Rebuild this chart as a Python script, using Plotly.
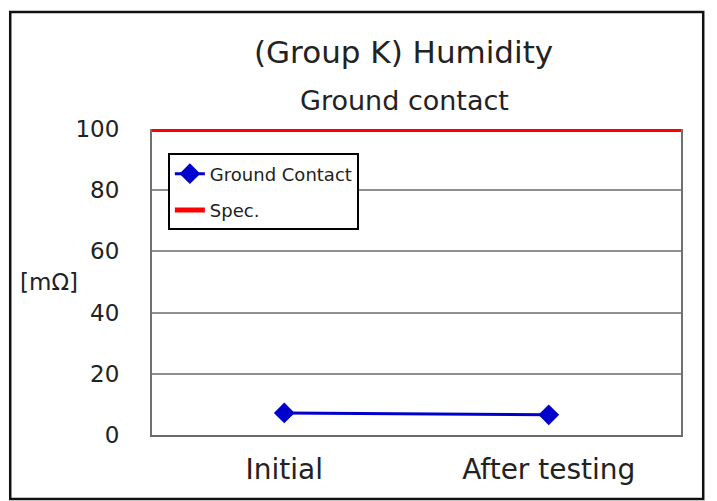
import plotly.graph_objects as go

categories = ["Initial", "After testing"]
ground_contact = [7.2, 6.6]
spec_limit = 100
y_ticks = [0, 20, 40, 60, 80, 100]

FONT = "DejaVu Sans"
TEXT = "#222222"

fig = go.Figure()

fig.add_trace(go.Scatter(
    x=categories,
    y=ground_contact,
    mode="lines+markers",
    name="Ground Contact",
    legendgroup="gc",
    line=dict(color="#0000CC", width=3),
    marker=dict(symbol="diamond", size=16, color="#0000CC"),
))

# legend entry for the spec line (the line itself is an hline below)
fig.add_trace(go.Scatter(
    x=[None], y=[None],
    mode="lines",
    name="Spec.",
    legendgroup="spec",
    line=dict(color="#FF0000", width=5),
))

fig.update_layout(
    width=717,
    height=501,
    margin=dict(l=152, r=36, t=129, b=66),
    paper_bgcolor="white",
    plot_bgcolor="white",
    font=dict(family=FONT, color=TEXT),
    showlegend=True,
    legend=dict(
        x=0.03, y=0.92, xanchor="left", yanchor="top",
        bgcolor="white", bordercolor="black", borderwidth=2,
        font=dict(size=18, color=TEXT),
        tracegroupgap=10,
    ),
    xaxis=dict(
        range=[-0.5, 1.5],
        showgrid=False,
        showline=True, linecolor="#6a6a6a", linewidth=2, mirror=False,
        tickfont=dict(size=28),
        ticks="", ticklabelstandoff=8,
        fixedrange=True,
    ),
    yaxis=dict(
        range=[0, 100],
        tickvals=y_ticks,
        showgrid=True, gridcolor="#909090", gridwidth=1.5,
        showline=True, linecolor="#707070", linewidth=2, mirror=True,
        zeroline=False,
        tickfont=dict(size=23),
        ticks="", ticklabelstandoff=26,
        fixedrange=True,
    ),
    annotations=[
        dict(text="(Group K) Humidity", xref="paper", yref="paper",
             x=0.476, y=1.252, xanchor="center", yanchor="middle",
             showarrow=False, font=dict(size=31, color=TEXT)),
        dict(text="Ground contact", xref="paper", yref="paper",
             x=0.478, y=1.092, xanchor="center", yanchor="middle",
             showarrow=False, font=dict(size=27, color=TEXT)),
        dict(text="[mΩ]", xref="paper", yref="paper",
             x=-0.254, y=0.5, xanchor="left", yanchor="middle",
             showarrow=False, font=dict(size=23, color=TEXT)),
    ],
)

# spec line spans the whole plot width (half of it is clipped at the top edge)
fig.add_hline(y=spec_limit, line=dict(color="#FF0000", width=6), layer="above")

# outer chart frame
fig.add_shape(type="rect", xref="paper", yref="paper",
              x0=-0.268, x1=1.042, y0=-0.209, y1=1.382,
              line=dict(color="#111111", width=2.5), fillcolor="rgba(0,0,0,0)")

fig.write_html("out.html", config={"displayModeBar": False},
               post_script="document.body.style.margin='0';")
